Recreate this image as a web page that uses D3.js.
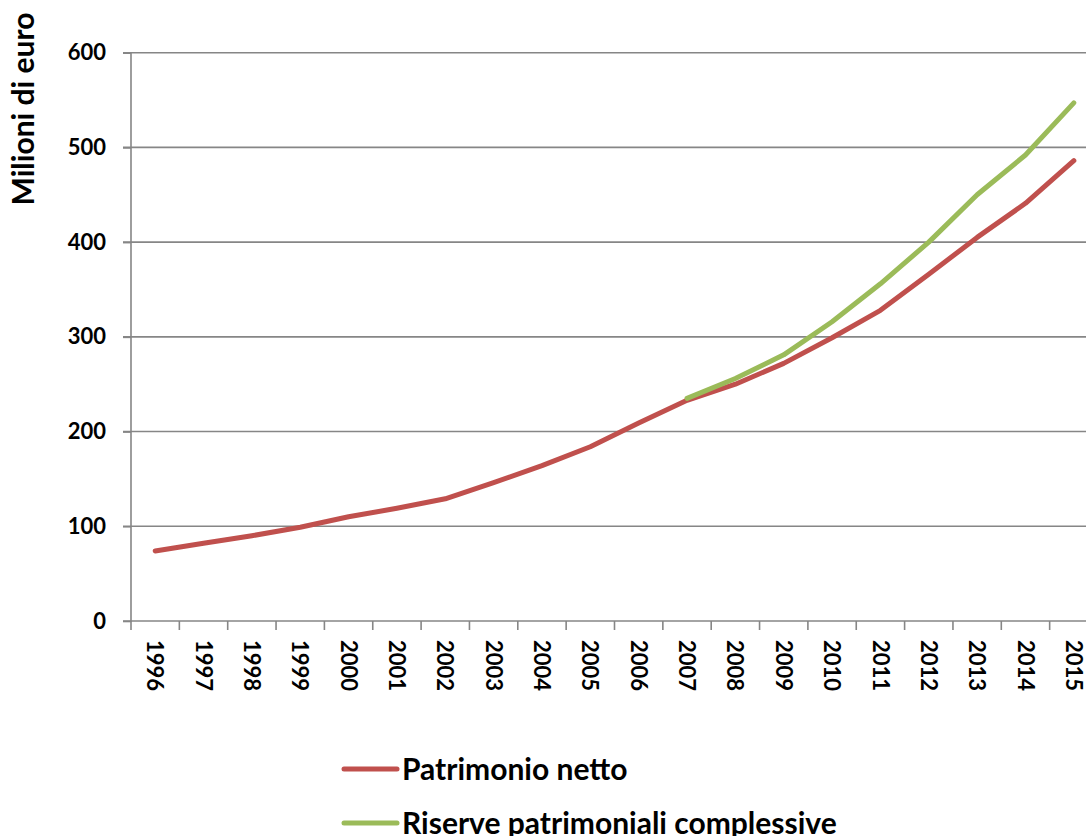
<!DOCTYPE html>
<html>
<head>
<meta charset="utf-8">
<script src="https://cdn.jsdelivr.net/npm/d3@7/dist/d3.min.js"></script>
<style>
  html, body { margin: 0; padding: 0; background: #fff; }
  svg { display: block; }
  text { font-family: Lato, "Open Sans", sans-serif; font-weight: bold; fill: #000; }
</style>
</head>
<body>
<svg id="chart" width="1086" height="836"></svg>
<script>
const years = ["1996","1997","1998","1999","2000","2001","2002","2003","2004","2005","2006","2007","2008","2009","2010","2011","2012","2013","2014","2015"];
const patrimonioNetto = [74, 82, 90, 99, 110, 119, 129, 146, 164, 184, 209, 233, 250, 272, 299, 328, 366, 405, 441, 486];
const riserveYears = ["2007","2008","2009","2010","2011","2012","2013","2014","2015"];
const riserveComplessive = [235, 256, 281, 316, 356, 400, 450, 492, 547];
const yTicks = [0, 100, 200, 300, 400, 500, 600];
const seriesNames = ["Patrimonio netto", "Riserve patrimoniali complessive"];
const seriesColors = ["#C0504D", "#9BBB59"];

(function () {
const svg = d3.select("#chart");
const plotLeft = 131, plotTop = 52.7, plotBottom = 621;
const bandW = 48.35;

const x = d3.scaleBand().domain(years).range([plotLeft, plotLeft + bandW * years.length]).padding(0);
const y = d3.scaleLinear().domain([0, 600]).range([plotBottom, plotTop]);
const cx = d => x(d) + x.bandwidth() / 2;

// gridlines
svg.append("g").selectAll("line").data(yTicks.filter(v => v > 0)).join("line")
  .attr("x1", plotLeft - 8).attr("x2", 1086)
  .attr("y1", d => y(d)).attr("y2", d => y(d))
  .attr("stroke", "#868686").attr("stroke-width", 1.6);

// y axis
const yAxis = d3.axisLeft(y).tickValues(yTicks).tickSize(8).tickPadding(17);
const gy = svg.append("g").attr("transform", `translate(${plotLeft},0)`).call(yAxis);
gy.select(".domain").attr("stroke", "#868686").attr("stroke-width", 1.6).attr("d", `M-8,${plotBottom}H0V${plotTop}H-8`);
gy.selectAll(".tick line").attr("stroke", "#868686").attr("stroke-width", 1.6);
gy.selectAll(".tick text").style("font-size", "22px").attr("fill", "#000");
gy.attr("font-family", null).attr("font-size", null);

// x axis
const gx = svg.append("g").attr("transform", `translate(0,${plotBottom})`);
gx.append("line").attr("x1", plotLeft).attr("x2", 1086).attr("y1", 0).attr("y2", 0)
  .attr("stroke", "#868686").attr("stroke-width", 1.6);
const bounds = years.map(d => x(d));
gx.selectAll("line.tk").data(bounds).join("line").attr("class", "tk")
  .attr("x1", d => d).attr("x2", d => d).attr("y1", 0).attr("y2", 9)
  .attr("stroke", "#868686").attr("stroke-width", 1.6);
gx.selectAll("text").data(years).join("text")
  .attr("transform", d => `translate(${cx(d)},19) rotate(90)`)
  .attr("dy", "0.36em")
  .attr("text-anchor", "start")
  .style("font-size", "22px")
  .text(d => d);

// y title
svg.append("text")
  .attr("transform", "translate(23,109) rotate(-90)")
  .attr("text-anchor", "middle")
  .attr("dy", "0.36em")
  .style("font-size", "30px")
  .text("Milioni di euro");

// lines
const line = d3.line().x(d => cx(d[0])).y(d => y(d[1]));
svg.append("path").datum(years.map((yr, i) => [yr, patrimonioNetto[i]]))
  .attr("d", line).attr("fill", "none").attr("stroke", seriesColors[0])
  .attr("stroke-width", 5).attr("stroke-linecap", "round").attr("stroke-linejoin", "round");
svg.append("path").datum(riserveYears.map((yr, i) => [yr, riserveComplessive[i]]))
  .attr("d", line).attr("fill", "none").attr("stroke", seriesColors[1])
  .attr("stroke-width", 5).attr("stroke-linecap", "round").attr("stroke-linejoin", "round");

// legend
const legY = [769, 823];
seriesNames.forEach((name, i) => {
  svg.append("line").attr("x1", 344).attr("x2", 397).attr("y1", legY[i]).attr("y2", legY[i])
    .attr("stroke", seriesColors[i]).attr("stroke-width", 5).attr("stroke-linecap", "round");
  svg.append("text").attr("x", 402).attr("y", legY[i]).attr("dy", "0.36em")
    .style("font-size", "30px").text(name);
});
})();
</script>
</body>
</html>
